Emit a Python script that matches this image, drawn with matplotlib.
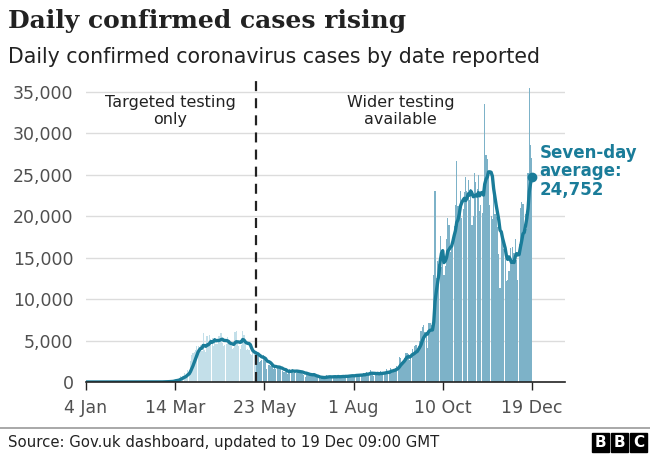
import numpy as np
import pandas as pd
import matplotlib
matplotlib.use('Agg')
import matplotlib.pyplot as plt
from matplotlib.patches import Rectangle

# daily confirmed cases by date reported, 4 Jan - 19 Dec 2020
jan = [0]*27 + [2]
feb = [0,0,0,0,0,0,1,0,1,4,0,0,1,0,0,0,0,0,0,0,0,0,0,0,0,4,2,7,3]
mar = [13,4,11,34,29,48,45,69,43,62,77,130,208,342,251,152,407,676,643,714,
       1035,665,967,1427,1452,2500,3200,3500,3600,3900,4300]
apr = [4324,4244,4450,3735,5903,3802,3634,5491,4344,5706,5234,5288,4342,5252,4603,
       4617,5599,5525,5850,4676,4301,4451,4583,5386,4913,4463,4309,3996,4076,6032]
may = [6201,4806,4339,3985,4406,6111,5614,4649,3896,3923,3877,3403,3242,3446,3560,3451,
       3142,3534,2412,2472,2615,3287,2959,2405,1625,2004,2013,1887,2095,1604,1936]
jun = [1570,1653,1871,1805,1557,1326,1205,1205,1387,1003,1266,1541,1425,1514,1056,
       1279,1115,1218,1346,1295,1221,958,874,653,1118,1006,890,901,815,689]
jul = [829,576,544,624,516,352,581,630,512,642,820,650,530,598,538,642,687,827,580,725,
       445,560,769,768,767,742,685,581,763,846,880]
aug = [744,743,938,670,892,950,871,758,1062,816,1148,1009,950,1441,1012,1040,713,1089,
       812,1182,1033,1288,1041,853,1184,1048,1522,1276,1108,1715,1406]
sep = [1295,1508,1735,1940,1813,2988,2948,2460,2659,2919,3539,3497,3330,2621,3105,3991,
       3395,4322,4422,3899,4368,4926,6178,6634,6874,6042,5693,4044,7143,7108]
oct = [6914,6968,12872,22961,12594,14542,14162,17540,13864,15166,12872,13972,17234,19724,
       18980,15650,16171,16982,18804,21331,26688,21242,20530,23012,19790,20890,22885,24701,
       23065,24405,21915]
nov = [23254,18950,20018,25177,24141,23287,24957,20572,21350,20412,22950,33470,27301,26860,
       24962,21363,20051,19609,22915,20252,19875,18662,15450,11299,18213,17555,16022,15871,
       12155,12330]
dec = [13430,16170,14879,16298,15539,17272,14718,12282,16578,20964,21672,21502,18447,20263,
       18450,25161,35383,28507,27052]

tick_days = [0, 70, 140, 210, 280, 350]
tick_labels = ['4 Jan', '14 Mar', '23 May', '1 Aug', '10 Oct', '19 Dec']
y_ticks = [0, 5000, 10000, 15000, 20000, 25000, 30000, 35000]
split_day = 134  # wider testing from mid May

cases = np.array(jan + feb + mar + apr + may + jun + jul + aug + sep + oct + nov + dec)
days = np.arange(len(cases))
avg = pd.Series(cases).rolling(7, min_periods=1).mean().to_numpy()

light = '#c3dfe9'
dark = '#7db2c8'
teal = '#1a7c99'

fig = plt.figure(figsize=(6.5, 4.57), dpi=100)
W, H = 650, 457
ax = fig.add_axes([86/W, 1-382/H, (565-86)/W, (382-75)/H])

colors = [light if d < split_day else dark for d in days]
ax.bar(days, cases, width=0.9, color=colors, linewidth=0, zorder=2)
ax.plot(days, avg, color=teal, lw=2.4, zorder=4, solid_capstyle='round')
ax.plot(days[-1], avg[-1], 'o', color=teal, ms=6, zorder=5)

ax.axvline(split_day - 0.5, ymin=0, ymax=1, color='#222222', lw=1.6,
           dashes=(4.5, 3.2), zorder=3)

ax.set_xlim(0, 376)
ax.set_ylim(0, 37000)
for y in y_ticks[1:]:
    ax.axhline(y, color='#dcdcdc', lw=1, zorder=1)
ax.set_yticks(y_ticks)
ax.set_yticklabels(['{:,}'.format(v) for v in y_ticks])
ax.set_xticks(tick_days)
ax.set_xticklabels(tick_labels)
ax.tick_params(axis='y', length=0, pad=9, labelsize=12.5, labelcolor='#505050')
ax.tick_params(axis='x', length=6, width=1, color='#222222', pad=6,
               labelsize=12.5, labelcolor='#505050')
for s in ['top', 'right', 'left']:
    ax.spines[s].set_visible(False)
ax.spines['bottom'].set_color('#222222')
ax.spines['bottom'].set_linewidth(1.2)
ax.spines['bottom'].set_zorder(6)

ax.text(66, 34600, 'Targeted testing\nonly', ha='center', va='top', fontsize=11.5,
        color='#222222', linespacing=1.15)
ax.text(247, 34600, 'Wider testing\navailable', ha='center', va='top', fontsize=11.5,
        color='#222222', linespacing=1.15)
ax.text(356, 25400, 'Seven-day\naverage:\n24,752', ha='left', va='center',
        fontsize=12, fontweight='bold', color=teal, linespacing=1.05)

fig.text(8/W, 1-21/H, 'Daily confirmed cases rising', fontsize=18, family='DejaVu Serif',
         fontweight='bold', va='center', ha='left', color='#222222')
fig.text(8/W, 1-57/H, 'Daily confirmed coronavirus cases by date reported', fontsize=14.8,
         va='center', ha='left', color='#222222')

fig.add_artist(plt.Line2D([0, 1], [1-428/H, 1-428/H], color='#999999', lw=1.2))
fig.text(8/W, 1-442/H, 'Source: Gov.uk dashboard, updated to 19 Dec 09:00 GMT',
         fontsize=10.7, va='center', ha='left', color='#222222')
for i, ch in enumerate('BBC'):
    x0 = 592 + i*19
    fig.add_artist(Rectangle((x0/W, 1-452/H), 17/W, 19/H, color='black',
                             transform=fig.transFigure))
    fig.text((x0+8.5)/W, 1-442.5/H, ch, fontsize=11, fontweight='bold', color='white',
             ha='center', va='center')

fig.savefig('out.png', dpi=100)
